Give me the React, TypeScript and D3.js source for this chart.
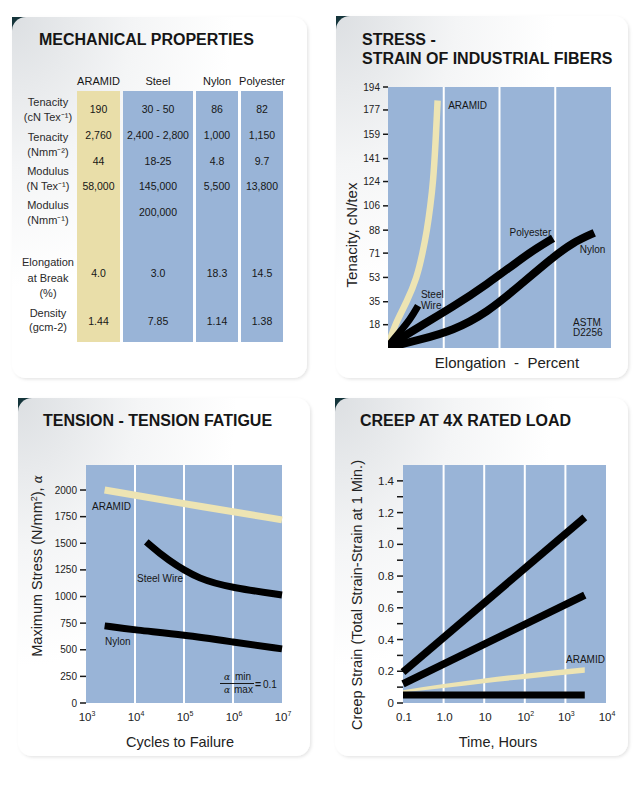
import React from 'react';
import * as d3 from 'd3';

const FONT = '"Liberation Sans", Arial, Helvetica, sans-serif';
const BLUE = '#99b4d7';
const YELLOW_COL = '#e9dea9';
const YELLOW_LINE = '#ede4b3';
const INK = '#161616';

// ---------- Panel 1: Mechanical properties ----------
const fibers = ['ARAMID', 'Steel', 'Nylon', 'Polyester'];
const tenacityCN = ['190', '30 - 50', '86', '82'];
const tenacityNmm = ['2,760', '2,400 - 2,800', '1,000', '1,150'];
const unlabeledRow = ['44', '18-25', '4.8', '9.7'];
const modulusNTex = ['58,000', '145,000', '5,500', '13,800'];
const modulusNmm = ['', '200,000', '', ''];
const elongationBreak = ['4.0', '3.0', '18.3', '14.5'];
const densityVals = ['1.44', '7.85', '1.14', '1.38'];
const tableRows = [tenacityCN, tenacityNmm, unlabeledRow, modulusNTex, modulusNmm, elongationBreak, densityVals];
const rowLabels: string[][] = [
  ['Tenacity', '(cN Tex⁻¹)'],
  ['Tenacity', '(Nmm⁻²)'],
  ['Modulus', '(N Tex⁻¹)'],
  ['Modulus', '(Nmm⁻¹)'],
  ['Elongation', 'at Break', '(%)'],
  ['Density', '(gcm-2)'],
];

// ---------- Panel 2: Stress-strain ----------
const stressTicks = [18, 35, 53, 71, 88, 106, 124, 141, 159, 177, 194];
const aramidElong = [0, 0.6, 1.7, 2.6, 3.1, 3.5, 3.8, 4.05, 4.25, 4.45];
const aramidTen = [2, 18, 35, 53, 71, 88, 106, 124, 150, 184];
const steelElong = [0, 1.0, 2.0, 2.7];
const steelTen = [2, 12, 22, 32];
const polyElong = [0, 2.9, 5.8, 8.9, 11.8, 13.4, 14.8];
const polyTen = [2, 17, 31, 48, 66, 75, 82];
const nylonElong = [0, 2.9, 5.8, 8.9, 11.8, 14.8, 16.6, 18.5];
const nylonTen = [1, 7, 13.5, 27, 47, 68, 79, 86];

// ---------- Panel 3: Tension fatigue ----------
const fatigueTicks = [0, 250, 500, 750, 1000, 1250, 1500, 1750, 2000];
const cycleTicks = [3, 4, 5, 6, 7];
const aramidCycles = [2400, 1e5, 1e7];
const aramidStress = [2000, 1872, 1720];
const steelCycles = [17000, 45000, 210000, 1e6, 1e7];
const steelStress = [1513, 1344, 1156, 1081, 1015];
const nylonCycles = [2400, 1e4, 1e5, 1e6, 1e7];
const nylonStress = [724, 686, 639, 573, 508];

// ---------- Panel 4: Creep ----------
const creepMajorTicks = [0, 0.2, 0.4, 0.6, 0.8, 1.0, 1.2, 1.4];
const creepMinorTicks = [0.1, 0.3, 0.5, 0.7, 0.9, 1.1, 1.3];
const creepMajorLabels = ['0', '0.2', '0.4', '0.6', '0.8', '1.0', '1.2', '1.4'];
const timeTicks = [0.1, 1, 10, 100, 1000, 10000];
const creepTimes = [0.1, 3000];
const creepTop = [0.195, 1.17];
const creepSecond = [0.12, 0.68];
const creepBottom = [0.05, 0.05];
const aramidCreepTimes = [0.1, 1, 10, 100, 3000];
const aramidCreepUpper = [0.08, 0.12, 0.155, 0.185, 0.225];
const aramidCreepLower = [0.068, 0.095, 0.125, 0.152, 0.19];

const zip = (a: number[], b: number[]) => a.map((v, i) => [v, b[i]] as [number, number]);

function Card({ x, y, w, h }: { x: number; y: number; w: number; h: number }) {
  return (
    <g>
      <rect x={x} y={y} width={22} height={18} fill="#15353b" />
      <rect x={x} y={y} width={w} height={h} rx={14} fill="url(#cardGrad)" filter="url(#shadow)" />
    </g>
  );
}

function Sup({ base, exp }: { base: string; exp: string }) {
  return (
    <>
      {base}
      <tspan dy={-5} fontSize={7}>{exp}</tspan>
    </>
  );
}

export default function App() {
  // Panel 1 layout
  const colX: [number, number][] = [[77, 120], [123, 193], [196, 238], [241, 283]];
  const colTop = 91, colBottom = 342;
  const rowY = [109, 135, 161, 186, 212, 273, 321];
  const labelY = [[102, 117], [137, 152], [171, 186], [205, 220], [262, 278, 293], [313, 327]];

  // Panel 2 scales
  const x2 = d3.scaleLinear().domain([0, 20]).range([388, 611]);
  const y2 = d3.scaleLinear().domain([0, 194]).range([349, 87]);
  const line2 = d3.line<[number, number]>().x(d => x2(d[0])).y(d => y2(d[1])).curve(d3.curveBasis);

  // Panel 3 scales
  const x3 = d3.scaleLog().domain([1e3, 1e7]).range([86, 282]);
  const y3 = d3.scaleLinear().domain([0, 2235]).range([703, 465]);
  const line3 = d3.line<[number, number]>().x(d => x3(d[0])).y(d => y3(d[1])).curve(d3.curveBasis);

  // Panel 4 scales
  const x4 = d3.scaleLog().domain([0.1, 1e4]).range([403, 606]);
  const y4 = d3.scaleLinear().domain([0, 1.5]).range([703, 465]);
  const line4 = d3.line<[number, number]>().x(d => x4(d[0])).y(d => y4(d[1]));
  const area4 = d3.area<number>()
    .x((_, i) => x4(aramidCreepTimes[i]))
    .y0((_, i) => y4(aramidCreepLower[i]))
    .y1((_, i) => y4(aramidCreepUpper[i]))
    .curve(d3.curveMonotoneX);

  const timeLabel = (t: number) => {
    if (t === 0.1) return '0.1';
    if (t === 1) return '1.0';
    if (t === 10) return '10';
    return null;
  };

  const LBL = 10;

  return (
    <svg width={640} height={803} style={{ position: 'absolute', left: 0, top: 0, background: '#fff' }} fontFamily={FONT}>
      <defs>
        <radialGradient id="cardGrad" cx="0%" cy="0%" r="75%">
          <stop offset="0%" stopColor="#dcdfe2" />
          <stop offset="55%" stopColor="#f4f5f6" />
          <stop offset="100%" stopColor="#ffffff" />
        </radialGradient>
        <filter id="shadow" x="-5%" y="-5%" width="110%" height="110%">
          <feDropShadow dx="1.5" dy="1.5" stdDeviation="1.5" floodColor="#000" floodOpacity="0.1" />
        </filter>
        <clipPath id="clip2">
          <rect x={388} y={80} width={223} height={268} />
        </clipPath>
      </defs>

      {/* Cards */}
      <Card x={12} y={17} w={295} h={361} />
      <Card x={336} y={16} w={292} h={362} />
      <Card x={18} y={398} w={292} h={358} />
      <Card x={335} y={398} w={293} h={358} />

      {/* ===== Panel 1 ===== */}
      <text x={39} y={45} fontSize={16} fontWeight="bold" fill={INK}>MECHANICAL PROPERTIES</text>
      {fibers.map((f, i) => (
        <g key={f}>
          <rect x={colX[i][0]} y={colTop} width={colX[i][1] - colX[i][0]} height={colBottom - colTop} fill={i === 0 ? YELLOW_COL : BLUE} />
          <text x={(colX[i][0] + colX[i][1]) / 2} y={85} fontSize={11} textAnchor="middle" fill={INK}>{f}</text>
        </g>
      ))}
      {tableRows.map((row, r) =>
        row.map((v, c) => (
          <text key={r + '-' + c} x={(colX[c][0] + colX[c][1]) / 2} y={rowY[r] + 3.5} fontSize={10.5} textAnchor="middle" fill={INK}>{v}</text>
        ))
      )}
      {rowLabels.map((lines, r) =>
        lines.map((l, k) => (
          <text key={r + '-' + k} x={48} y={labelY[r][k] + 4} fontSize={11} textAnchor="middle" fill="#2a2a2a">{l}</text>
        ))
      )}

      {/* ===== Panel 2 ===== */}
      <text x={362} y={45} fontSize={16} fontWeight="bold" fill={INK}>STRESS -</text>
      <text x={362} y={64} fontSize={16} fontWeight="bold" fill={INK}>STRAIN OF INDUSTRIAL FIBERS</text>
      <rect x={x2(0)} y={y2(194)} width={x2(20) - x2(0)} height={348 - y2(194)} fill={BLUE} />
      {[5, 10, 15].map(v => (
        <line key={v} x1={x2(v)} x2={x2(v)} y1={y2(194)} y2={348} stroke="#fff" strokeWidth={2} />
      ))}
      {stressTicks.map(t => (
        <g key={t}>
          <line x1={x2(0) - 5} x2={x2(0)} y1={y2(t)} y2={y2(t)} stroke={INK} strokeWidth={1.5} />
          <text x={x2(0) - 8} y={y2(t) + 3.5} fontSize={10} textAnchor="end" fill="#222">{t}</text>
        </g>
      ))}
      <g clipPath="url(#clip2)">
        <path d={line2(zip(aramidElong, aramidTen)) || ''} fill="none" stroke={YELLOW_LINE} strokeWidth={6.5} />
        <path d={line2(zip(nylonElong, nylonTen)) || ''} fill="none" stroke="#000" strokeWidth={8} />
        <path d={line2(zip(polyElong, polyTen)) || ''} fill="none" stroke="#000" strokeWidth={8} />
        <path d={line2(zip(steelElong, steelTen)) || ''} fill="none" stroke="#000" strokeWidth={7} />
      </g>
      <text x={x2(5.4)} y={y2(178)} fontSize={LBL} fill={INK}>ARAMID</text>
      <text x={x2(2.95)} y={y2(37.5)} fontSize={LBL} fill={INK}>Steel</text>
      <text x={x2(2.95)} y={y2(29.5)} fontSize={LBL} fill={INK}>Wire</text>
      <text x={x2(10.9)} y={y2(84)} fontSize={LBL} fill={INK}>Polyester</text>
      <text x={x2(17.2)} y={y2(71)} fontSize={LBL} fill={INK}>Nylon</text>
      <text x={x2(16.6)} y={y2(17)} fontSize={LBL} fill={INK}>ASTM</text>
      <text x={x2(16.6)} y={y2(9.5)} fontSize={LBL} fill={INK}>D2256</text>
      <text transform={`translate(357,235) rotate(-90)`} fontSize={15} textAnchor="middle" fill="#222">Tenacity, cN/tex</text>
      <text x={507} y={368} fontSize={15} textAnchor="middle" fill="#222" style={{ whiteSpace: 'pre' }}>{'Elongation  -  Percent'}</text>

      {/* ===== Panel 3 ===== */}
      <text x={43} y={426} fontSize={16} fontWeight="bold" fill={INK}>TENSION - TENSION FATIGUE</text>
      <rect x={x3(1e3)} y={y3(2235)} width={x3(1e7) - x3(1e3)} height={y3(0) - y3(2235)} fill={BLUE} />
      {[1e4, 1e5, 1e6].map(v => (
        <line key={v} x1={x3(v)} x2={x3(v)} y1={y3(2235)} y2={y3(0)} stroke="#fff" strokeWidth={2} />
      ))}
      {fatigueTicks.map(t => (
        <g key={t}>
          <line x1={x3(1e3) - 6} x2={x3(1e3)} y1={y3(t)} y2={y3(t)} stroke={INK} strokeWidth={1.5} />
          <text x={x3(1e3) - 9} y={y3(t) + 3.5} fontSize={10} textAnchor="end" fill="#222">{t}</text>
        </g>
      ))}
      {cycleTicks.map(e => (
        <text key={e} x={x3(Math.pow(10, e)) + 1} y={721} fontSize={11.5} textAnchor="middle" fill="#222">
          <Sup base="10" exp={String(e)} />
        </text>
      ))}
      <path d={line3(zip(aramidCycles, aramidStress)) || ''} fill="none" stroke={YELLOW_LINE} strokeWidth={7} />
      <path d={line3(zip(steelCycles, steelStress)) || ''} fill="none" stroke="#000" strokeWidth={7} />
      <path d={line3(zip(nylonCycles, nylonStress)) || ''} fill="none" stroke="#000" strokeWidth={7} />
      <text x={92} y={510} fontSize={LBL} fill={INK}>ARAMID</text>
      <text x={137} y={582} fontSize={LBL} fill={INK}>Steel Wire</text>
      <text x={105} y={645} fontSize={LBL} fill={INK}>Nylon</text>
      <g fill={INK}>
        <text x={224} y={680} fontSize={9} fontStyle="italic" fontFamily="DejaVu Serif, serif">α</text>
        <text x={235} y={680} fontSize={10}>min</text>
        <line x1={220} x2={254} y1={683.5} y2={683.5} stroke={INK} strokeWidth={1} />
        <text x={224} y={693} fontSize={9} fontStyle="italic" fontFamily="DejaVu Serif, serif">α</text>
        <text x={234} y={693} fontSize={10}>max</text>
        <text x={255} y={688} fontSize={10.5} fontWeight="bold">=</text>
        <text x={263} y={688} fontSize={10}>0.1</text>
      </g>
      <text transform={`translate(42,566) rotate(-90)`} fontSize={14.5} textAnchor="middle" fill="#222">
        Maximum Stress (N/mm<tspan dy={-5} fontSize={9}>2</tspan><tspan dy={5}>), </tspan>
        <tspan fontStyle="italic" fontFamily="DejaVu Serif, serif" fontSize={12}>α</tspan>
      </text>
      <text x={180} y={747} fontSize={14.5} textAnchor="middle" fill="#222">Cycles to Failure</text>

      {/* ===== Panel 4 ===== */}
      <text x={360} y={426} fontSize={16} fontWeight="bold" fill={INK}>CREEP AT 4X RATED LOAD</text>
      <rect x={x4(0.1)} y={y4(1.5)} width={x4(1e4) - x4(0.1)} height={y4(0) - y4(1.5)} fill={BLUE} />
      {[1, 10, 100, 1000].map(v => (
        <line key={v} x1={x4(v)} x2={x4(v)} y1={y4(1.5)} y2={y4(0)} stroke="#fff" strokeWidth={2} />
      ))}
      {creepMajorTicks.map((t, i) => (
        <g key={t}>
          <line x1={x4(0.1) - 6} x2={x4(0.1)} y1={y4(t)} y2={y4(t)} stroke={INK} strokeWidth={1.5} />
          <text x={x4(0.1) - 9} y={y4(t) + 4} fontSize={11.5} textAnchor="end" fill="#222">{creepMajorLabels[i]}</text>
        </g>
      ))}
      {creepMinorTicks.map(t => (
        <line key={t} x1={x4(0.1) - 6} x2={x4(0.1)} y1={y4(t)} y2={y4(t)} stroke={INK} strokeWidth={1.5} />
      ))}
      {timeTicks.map(t => {
        const lab = timeLabel(t);
        return (
          <text key={t} x={x4(t) + 1} y={721} fontSize={11.5} textAnchor="middle" fill="#222">
            {lab !== null ? lab : <Sup base="10" exp={String(Math.round(Math.log10(t)))} />}
          </text>
        );
      })}
      <path d={area4(aramidCreepTimes) || ''} fill={YELLOW_LINE} />
      <path d={line4(zip(creepTimes, creepBottom)) || ''} fill="none" stroke="#000" strokeWidth={7} />
      <path d={line4(zip(creepTimes, creepSecond)) || ''} fill="none" stroke="#000" strokeWidth={7.5} />
      <path d={line4(zip(creepTimes, creepTop)) || ''} fill="none" stroke="#000" strokeWidth={7.5} />
      <text x={566} y={663} fontSize={LBL} fill={INK}>ARAMID</text>
      <text transform={`translate(362,595) rotate(-90)`} fontSize={14.5} textAnchor="middle" fill="#222">Creep Strain (Total Strain-Strain at 1 Min.)</text>
      <text x={498} y={747} fontSize={14.5} textAnchor="middle" fill="#222">Time, Hours</text>
    </svg>
  );
}
